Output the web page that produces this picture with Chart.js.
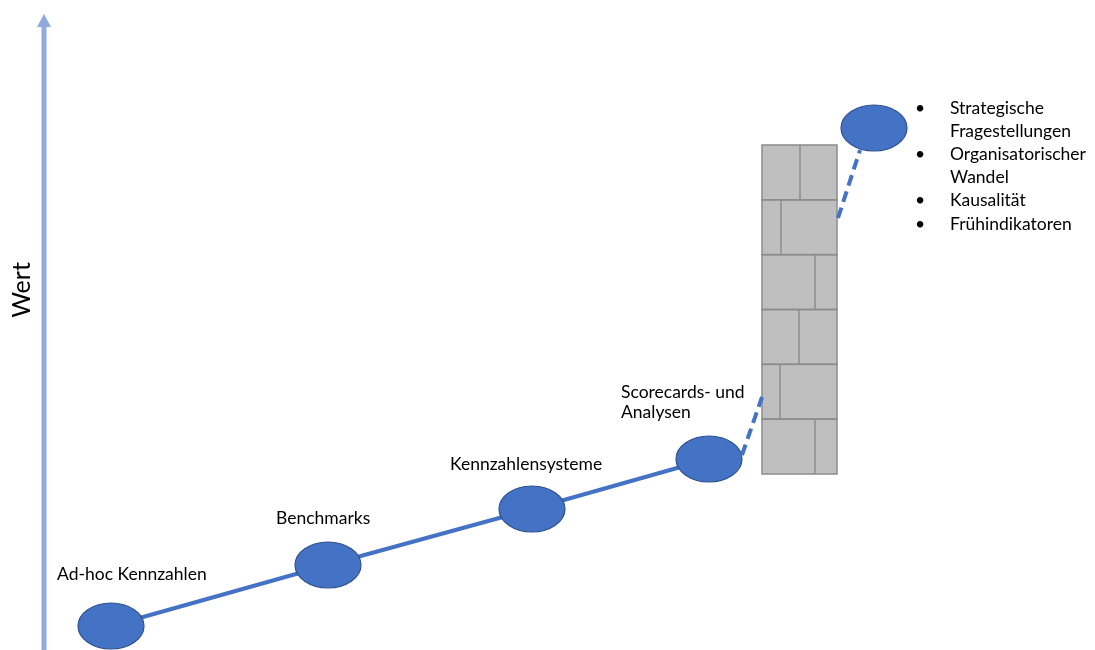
<!DOCTYPE html>
<html>
<head>
<meta charset="utf-8">
<script src="https://cdn.jsdelivr.net/npm/chart.js@4/dist/chart.umd.min.js"></script>
<style>
html,body{margin:0;padding:0;background:#fff;}
#wrap{width:1095px;height:650px;position:relative;}
</style>
</head>
<body>
<div id="wrap"><canvas id="chart"></canvas></div>
<script>
// stages along the path
const stages = ['Ad-hoc Kennzahlen', 'Benchmarks', 'Kennzahlensysteme', 'Scorecards- und|Analysen', ''];
const stageX = [111, 328, 532, 709, 874];
const stageWert = [24, 85, 141, 191, 522];

// dashed connectors around the wall
const dashLowX = [742, 762];
const dashLowWert = [195, 253];
const dashHighX = [838, 860];
const dashHighWert = [432, 500];

// wall
const wallX = [762, 837];
const wallWert = [176, 505];
const brickJoints = [800, 781, 815, 799, 780, 815]; // top row first

// bullet list next to the last stage
const bullets = [
  ['Strategische', 'Fragestellungen'],
  ['Organisatorischer', 'Wandel'],
  ['Kausalität'],
  ['Frühindikatoren']
];

const blue = '#4472C4';
const font = '17.5px Lato, "Open Sans", sans-serif';

// ellipse marker
let ell = document.createElement('canvas');
ell.width = 70; ell.height = 50;
let ec = ell.getContext('2d');
ec.beginPath();
ec.ellipse(35, 25, 33, 23, 0, 0, Math.PI * 2);
ec.fillStyle = blue;
ec.fill();
ec.lineWidth = 1.2;
ec.strokeStyle = '#2F528F';
ec.stroke();

const pts = (xs, ys) => xs.map((x, i) => ({x: x, y: ys[i]}));

let decor = {
  id: 'decor',
  beforeDatasetsDraw(chart) {
    let c = chart.ctx, xs = chart.scales.x, ys = chart.scales.y;
    // value axis arrow
    let ax = 44, top = 14;
    c.save();
    c.strokeStyle = '#8FAADC';
    c.fillStyle = '#8FAADC';
    c.lineWidth = 5;
    c.beginPath();
    c.moveTo(ax, 650);
    c.lineTo(ax, top + 12);
    c.stroke();
    c.beginPath();
    c.moveTo(ax, top);
    c.lineTo(ax - 7, top + 13);
    c.lineTo(ax + 7, top + 13);
    c.closePath();
    c.fill();
    c.translate(22, 290);
    c.rotate(-Math.PI / 2);
    c.fillStyle = '#000';
    c.font = '25px Lato, "Open Sans", sans-serif';
    c.textAlign = 'center';
    c.textBaseline = 'middle';
    c.fillText('Wert', 0, 0);
    c.restore();

    // wall
    let l = xs.getPixelForValue(wallX[0]), r = xs.getPixelForValue(wallX[1]);
    let t = ys.getPixelForValue(wallWert[1]), b = ys.getPixelForValue(wallWert[0]);
    let rowH = (b - t) / brickJoints.length;
    c.save();
    c.fillStyle = '#BFBFBF';
    c.fillRect(l, t, r - l, b - t);
    c.strokeStyle = '#8C8C8C';
    c.lineWidth = 1.5;
    for (let i = 0; i < brickJoints.length; i++) {
      let y0 = t + i * rowH;
      c.strokeRect(l, y0, r - l, rowH);
      let jx = xs.getPixelForValue(brickJoints[i]);
      c.beginPath();
      c.moveTo(jx, y0);
      c.lineTo(jx, y0 + rowH);
      c.stroke();
    }
    c.restore();
  },
  afterDatasetsDraw(chart) {
    let c = chart.ctx, xs = chart.scales.x, ys = chart.scales.y;
    c.save();
    c.fillStyle = '#000';
    c.font = font;
    c.textBaseline = 'middle';
    let offX = [-54, -52, -82, -88];
    let offY = [-52, -47, -45, -67];
    for (let i = 0; i < 4; i++) {
      let px = xs.getPixelForValue(stageX[i]) + offX[i];
      let py = ys.getPixelForValue(stageWert[i]) + offY[i];
      stages[i].split('|').forEach((ln, k) => c.fillText(ln, px, py + k * 20));
    }
    // bullet list
    let bx = 918, tx = 950, y = 108;
    bullets.forEach(item => {
      c.fillText('•', bx - 3, y);
      item.forEach(ln => { c.fillText(ln, tx, y); y += 23.2; });
    });
    c.restore();
  }
};

let ctx = document.getElementById('chart').getContext('2d');
let myChart = new Chart(ctx, {
  type: 'scatter',
  data: {
    datasets: [{
      data: pts(dashLowX, dashLowWert),
      showLine: true,
      borderColor: blue,
      borderWidth: 4,
      borderDash: [11, 6],
      pointRadius: 0
    }, {
      data: pts(dashHighX, dashHighWert),
      showLine: true,
      borderColor: blue,
      borderWidth: 4,
      borderDash: [11, 6],
      pointRadius: 0
    }, {
      data: pts(stageX, stageWert),
      showLine: true,
      borderColor: blue,
      borderWidth: 4,
      segment: {
        borderColor: c => c.p1DataIndex === 4 ? 'rgba(0,0,0,0)' : blue
      },
      pointStyle: ell,
      pointRadius: 25
    }]
  },
  options: {
    responsive: true,
    maintainAspectRatio: false,
    animation: false,
    layout: {padding: 0, autoPadding: false},
    scales: {
      x: {type: 'linear', min: 0, max: 1095, display: false},
      y: {type: 'linear', min: 0, max: 650, display: false}
    },
    plugins: {
      legend: {display: false},
      tooltip: {enabled: false}
    }
  },
  plugins: [decor]
});
</script>
</body>
</html>
